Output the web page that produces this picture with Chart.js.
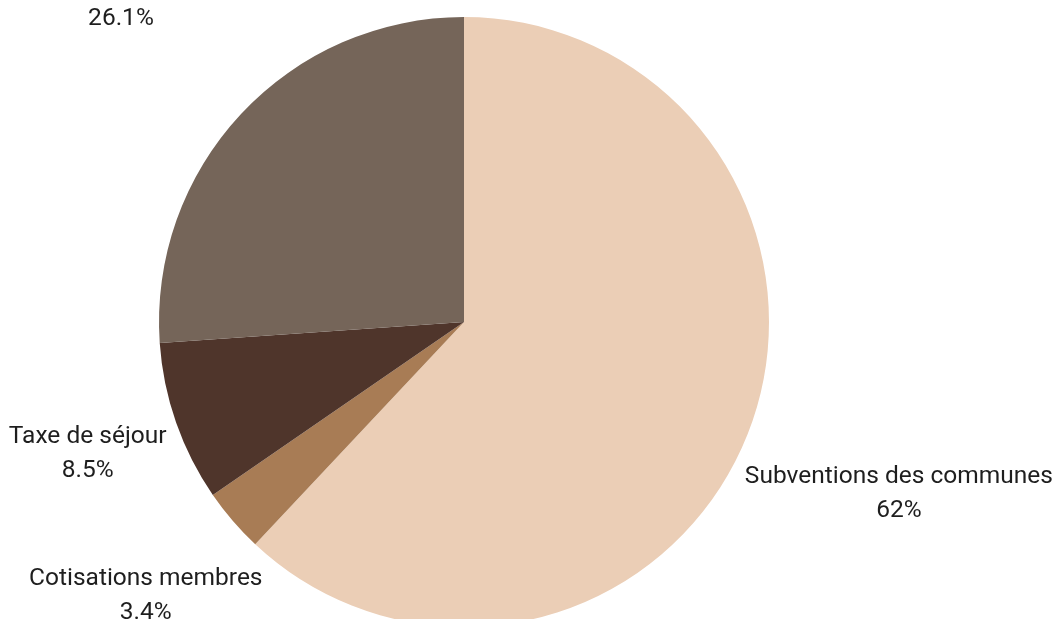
<!DOCTYPE html>
<html>
<head>
<meta charset="utf-8">
<script src="https://cdn.jsdelivr.net/npm/chart.js@4.4.1/dist/chart.umd.min.js"></script>
<style>
  html, body { margin: 0; padding: 0; background: #fff; overflow: hidden; }
  #wrap { position: relative; width: 1055px; height: 650px; }
</style>
</head>
<body>
<div id="wrap"><canvas id="chart"></canvas></div>
<script>
// Répartition des recettes
const categories = [
  "Subventions des communes",
  "Cotisations membres",
  "Taxe de séjour",
  "Ventes et autres recettes commerciales",
];
const shares = [62, 3.4, 8.5, 26.1];
const valueLabels = ["62%", "3.4%", "8.5%", "26.1%"];
const colors = ["#ebceb6", "#a87c55", "#4f352b", "#756559"];

const FONT = "24.5px Roboto, 'Noto Sans', sans-serif";
const LINE_H = 34;
const GAP = 8;

// Labels outside the pie: the text box is pushed along the slice's mid angle
// until its nearest point sits GAP px outside the arc.
const outsideLabels = {
  id: "outsideLabels",
  afterDraw(chart) {
    const ctx = chart.ctx;
    const meta = chart.getDatasetMeta(0);
    ctx.save();
    ctx.font = FONT;
    ctx.fillStyle = "#1e1e1e";
    ctx.textAlign = "center";
    ctx.textBaseline = "middle";
    meta.data.forEach((arc, i) => {
      const p = arc.getProps(["x", "y", "startAngle", "endAngle", "outerRadius"], true);
      const mid = (p.startAngle + p.endAngle) / 2;
      const vx = Math.cos(mid), vy = Math.sin(mid);
      const lines = [categories[i], valueLabels[i]];
      const w = Math.max(...lines.map((t) => ctx.measureText(t).width));
      const h = LINE_H * lines.length;
      const target = p.outerRadius + GAP;
      const nearest = (d) => {
        const cx = vx * d, cy = vy * d;
        const nx = Math.max(Math.abs(cx) - w / 2, 0);
        const ny = Math.max(Math.abs(cy) - h / 2, 0);
        return Math.hypot(nx, ny);
      };
      let lo = 0, hi = p.outerRadius * 4;
      for (let k = 0; k < 40; k++) {
        const m = (lo + hi) / 2;
        if (nearest(m) < target) lo = m; else hi = m;
      }
      const cx = p.x + vx * hi, cy = p.y + vy * hi;
      lines.forEach((t, j) => {
        ctx.fillText(t, cx, cy - h / 2 + LINE_H * (j + 0.5));
      });
    });
    ctx.restore();
  },
};

new Chart(document.getElementById("chart"), {
  type: "pie",
  data: {
    labels: categories,
    datasets: [{
      data: shares,
      backgroundColor: colors,
      borderWidth: 0,
    }],
  },
  options: {
    responsive: true,
    maintainAspectRatio: false,
    animation: false,
    events: [],
    layout: { padding: { top: 17, bottom: 23, left: 0, right: 127 } },
    plugins: {
      legend: { display: false },
      tooltip: { enabled: false },
    },
  },
  plugins: [outsideLabels],
});
</script>
</body>
</html>
